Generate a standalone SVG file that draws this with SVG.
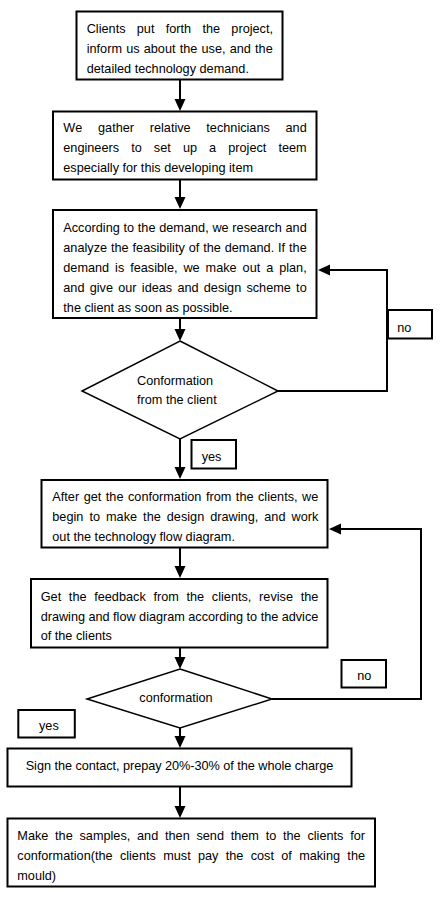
<svg xmlns="http://www.w3.org/2000/svg" width="440" height="900" viewBox="0 0 440 900">
<style>
.box{fill:#fff;stroke:#000;stroke-width:2}
.dia{fill:#fff;stroke:#000;stroke-width:1.5}
.lbl{fill:#fff;stroke:#000;stroke-width:2}
text{font-family:"Liberation Sans",Arial,sans-serif;font-size:12.7px;fill:#000;font-kerning:none}
.con{fill:none;stroke:#000;stroke-width:2}
</style>
<defs>
<marker id="ah" markerUnits="userSpaceOnUse" markerWidth="13" markerHeight="12" refX="6" refY="6" orient="auto" overflow="visible">
<path d="M0,0.5 L12,6 L0,11.5 Z" fill="#000"/>
</marker>
</defs>
<rect width="440" height="900" fill="#fff"/>
<g id="connectors">
<path class="con" d="M180,80 V105" marker-end="url(#ah)"/>
<path class="con" d="M180,180 V203" marker-end="url(#ah)"/>
<path class="con" d="M180,319 V335" marker-end="url(#ah)"/>
<path class="con" d="M180,439 V473" marker-end="url(#ah)"/>
<path class="con" d="M180,548 V572" marker-end="url(#ah)"/>
<path class="con" d="M180,648 V663" marker-end="url(#ah)"/>
<path class="con" d="M180,728 V742" marker-end="url(#ah)"/>
<path class="con" d="M180,787 V812" marker-end="url(#ah)"/>
<path class="con" d="M278,391 H387 V270 H324" marker-end="url(#ah)"/>
<path class="con" d="M272,699 H421 V529 H335" marker-end="url(#ah)"/>
</g>
<g id="n1">
<rect class="box" x="76.5" y="11.5" width="206" height="68"/>
<text x="86.7" y="33" word-spacing="7.75" textLength="186.3" lengthAdjust="spacing">Clients put forth the project,</text>
<text x="86.7" y="53" word-spacing="0.65" textLength="186" lengthAdjust="spacing">inform us about the use, and the</text>
<text x="86.7" y="72.5">detailed technology demand.</text>
</g>
<g id="n2">
<rect class="box" x="53" y="111.5" width="263.5" height="68"/>
<text x="63.3" y="132" word-spacing="12.15" textLength="243.4" lengthAdjust="spacing">We gather relative technicians and</text>
<text x="63.3" y="152" word-spacing="8.57" textLength="243.4" lengthAdjust="spacing">engineers to set up a project teem</text>
<text x="63.3" y="172">especially for this developing item</text>
</g>
<g id="n3">
<rect class="box" x="53" y="210" width="263.5" height="108"/>
<text x="63.3" y="232" word-spacing="0.2" textLength="243.4" lengthAdjust="spacing">According to the demand, we research and</text>
<text x="63.3" y="252" word-spacing="0.38" textLength="243.4" lengthAdjust="spacing">analyze the feasibility of the demand. If the</text>
<text x="63.3" y="272" word-spacing="2.4" textLength="243.4" lengthAdjust="spacing">demand is feasible, we make out a plan,</text>
<text x="63.3" y="292" word-spacing="1.7" textLength="243.4" lengthAdjust="spacing">and give our ideas and design scheme to</text>
<text x="63.3" y="312">the client as soon as possible.</text>
</g>
<g id="d1">
<polygon class="dia" points="180,341 278,391 180,439 82,391"/>
<text x="137" y="384.5">Conformation</text>
<text x="137" y="403.5">from the client</text>
</g>
<g id="no1">
<rect class="lbl" x="388" y="310" width="44" height="28.5"/>
<text x="397.3" y="331.5">no</text>
</g>
<g id="yes1">
<rect class="lbl" x="191.5" y="440" width="44.5" height="28.5"/>
<text x="201.7" y="461">yes</text>
</g>
<g id="n4">
<rect class="box" x="41.5" y="480" width="286" height="67.5"/>
<text x="52.3" y="501" word-spacing="0.99" textLength="266" lengthAdjust="spacing">After get the conformation from the clients, we</text>
<text x="52.3" y="521" word-spacing="2.5" textLength="266" lengthAdjust="spacing">begin to make the design drawing, and work</text>
<text x="52.3" y="541">out the technology flow diagram.</text>
</g>
<g id="n5">
<rect class="box" x="31" y="579" width="296.5" height="68.5"/>
<text x="40.7" y="601" word-spacing="4.16" textLength="277.6" lengthAdjust="spacing">Get the feedback from the clients, revise the</text>
<text x="40.7" y="621" word-spacing="0" textLength="277.6" lengthAdjust="spacing">drawing and flow diagram according to the advice</text>
<text x="40.7" y="640">of the clients</text>
</g>
<g id="d2">
<polygon class="dia" points="180,669 272,699 180,728 87,699"/>
<text x="176" y="702" text-anchor="middle">conformation</text>
</g>
<g id="no2">
<rect class="lbl" x="341.5" y="660" width="44.5" height="27.5"/>
<text x="357.3" y="680">no</text>
</g>
<g id="yes2">
<rect class="lbl" x="18.3" y="710" width="56.5" height="27.5"/>
<text x="39" y="729.5">yes</text>
</g>
<g id="n6">
<rect class="box" x="7.5" y="748.5" width="344" height="38"/>
<text x="25.7" y="769.5" textLength="307.6" lengthAdjust="spacing">Sign the contact, prepay 20%-30% of the whole charge</text>
</g>
<g id="n7">
<rect class="box" x="7.5" y="818.5" width="367.5" height="68"/>
<text x="17.3" y="840" word-spacing="3.2" textLength="347.7" lengthAdjust="spacing">Make the samples, and then send them to the clients for</text>
<text x="17.3" y="860" word-spacing="3.76" textLength="347.7" lengthAdjust="spacing">conformation(the clients must pay the cost of making the</text>
<text x="17.3" y="879.5">mould)</text>
</g>
</svg>
